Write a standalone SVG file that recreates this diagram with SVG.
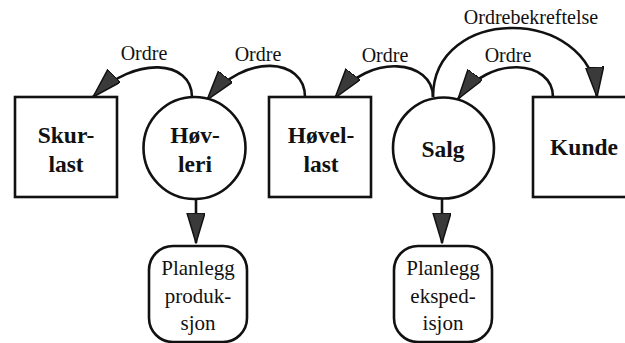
<svg xmlns="http://www.w3.org/2000/svg" width="625" height="343" viewBox="0 0 625 343">
<style>
.shape{fill:#fff;stroke:#111;stroke-width:2.6}
.conn{fill:none;stroke:#111;stroke-width:2.6}
text{font-family:"Liberation Serif","DejaVu Serif","Times New Roman",serif;fill:#111;text-anchor:middle}
.bold{font-weight:bold;font-size:23.5px}
.lbl{font-size:20px}
.plan{font-size:21px}
</style>
<defs>
<marker id="ah" markerUnits="userSpaceOnUse" markerWidth="34" markerHeight="22" refX="30" refY="9" orient="auto">
<path d="M0,0 L30,9 L0,18 Z" fill="#3a3a3a" stroke="#111" stroke-width="1.5" stroke-linejoin="round"/>
</marker>
</defs>
<rect width="625" height="343" fill="#fff"/>
<g id="connectors">
<path class="conn" d="M192,97 C192,60 135,55 93,97" marker-end="url(#ah)"/>
<path class="conn" d="M305,97 C305,58 245,52 207,100" marker-end="url(#ah)"/>
<path class="conn" d="M433,97 C433,60 370,52 335,98" marker-end="url(#ah)"/>
<path class="conn" d="M553,97 C553,60 490,54 458,99" marker-end="url(#ah)"/>
<path class="conn" d="M433,97 C433,5 590,5 597,97" marker-end="url(#ah)"/>
<path class="conn" d="M196,199 L196,243" marker-end="url(#ah)"/>
<path class="conn" d="M442,199 L442,243" marker-end="url(#ah)"/>
<text class="lbl" x="144" y="60" font-family="Liberation Serif, serif">Ordre</text>
<text class="lbl" x="258" y="61" font-family="Liberation Serif, serif">Ordre</text>
<text class="lbl" x="385" y="62" font-family="Liberation Serif, serif">Ordre</text>
<text class="lbl" x="508" y="62" font-family="Liberation Serif, serif">Ordre</text>
<text class="lbl" x="531" y="24" font-family="Liberation Serif, serif">Ordrebekreftelse</text>
</g>
<g id="skurlast">
<rect class="shape" x="15" y="97" width="102" height="100"/>
<text class="bold" x="66" y="143">Skur-</text>
<text class="bold" x="66" y="172">last</text>
</g>
<g id="hovleri">
<circle class="shape" cx="194.5" cy="148" r="51"/>
<text class="bold" x="195" y="143">Høv-</text>
<text class="bold" x="195" y="172">leri</text>
</g>
<g id="hovellast">
<rect class="shape" x="269" y="97" width="102" height="100"/>
<text class="bold" x="321" y="143">Høvel-</text>
<text class="bold" x="321" y="172">last</text>
</g>
<g id="salg">
<circle class="shape" cx="443.5" cy="148" r="50.5"/>
<text class="bold" x="443" y="157">Salg</text>
</g>
<g id="kunde">
<rect class="shape" x="533" y="97" width="110" height="100"/>
<text class="bold" x="584" y="155">Kunde</text>
</g>
<g id="planlegg-produksjon">
<rect class="shape" x="149" y="246" width="98" height="96" rx="24" ry="24"/>
<text class="plan" x="198" y="275">Planlegg</text>
<text class="plan" x="198" y="303">produk-</text>
<text class="plan" x="198" y="330">sjon</text>
</g>
<g id="planlegg-ekspedisjon">
<rect class="shape" x="394" y="246" width="98" height="96" rx="24" ry="24"/>
<text class="plan" x="443" y="275">Planlegg</text>
<text class="plan" x="443" y="303">eksped-</text>
<text class="plan" x="443" y="330">isjon</text>
</g>
</svg>
